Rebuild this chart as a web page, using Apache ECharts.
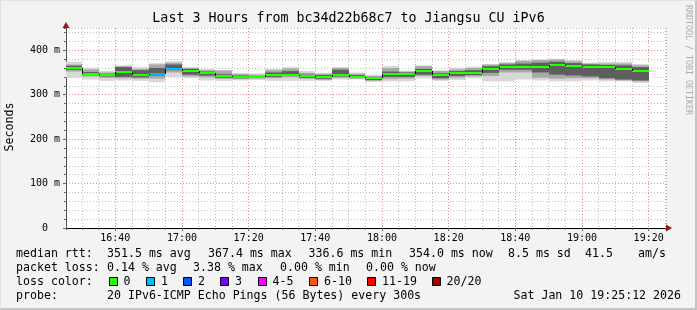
<!DOCTYPE html>
<html><head><meta charset="utf-8">
<script src="https://cdn.jsdelivr.net/npm/echarts@6/dist/echarts.min.js"></script>
<style>
html,body{margin:0;padding:0;background:#f3f3f3;}
#wrap{position:relative;width:697px;height:310px;}
#c{width:697px;height:310px;}
#frame{position:absolute;left:0;top:0;width:697px;height:310px;box-sizing:border-box;border-top:1px solid #e2e2e2;border-left:1px solid #e2e2e2;border-right:2px solid #c4c4c4;border-bottom:2px solid #c4c4c4;pointer-events:none;}
</style>
</head><body><div id="wrap"><div id="c"></div><div id="frame"></div></div>
<script>
// ---- data ----
const windowStart = '16:25:12';
const windowEnd = '19:25:12';
const stepMinutes = 5;
const stepEnds = ['16:30','16:35','16:40','16:45','16:50','16:55','17:00','17:05','17:10','17:15',
  '17:20','17:25','17:30','17:35','17:40','17:45','17:50','17:55','18:00','18:05',
  '18:10','18:15','18:20','18:25','18:30','18:35','18:40','18:45','18:50','18:55',
  '19:00','19:05','19:10','19:15','19:20'];
const median = [361,346.5,344.3,351.7,344.3,346.5,357.8,353.3,348.4,341.5,
  339.5,339.5,343.5,345,341,340,344.3,340,336.6,347.5,
  347.5,353.5,343.7,349,349.8,358,362.5,363,363.3,367.4,
  365.5,363.3,363.3,358.8,354.0];
const lossCount = [0,0,0,0,0,1,1,0,0,0, 0,0,0,0,0,0,0,0,0,0, 0,0,0,0,0,0,0,0,0,0, 0,0,0,0,0];
const smokeOuterLo = [338,334,331,332,331,328,340,337,332,331, 332,333,331,331,331,331,334,334,329,330, 330,337,331,333,337,330,330,334,332,330, 330,332,330,330,326];
const smokeOuterHi = [374,361,354,366,362,371,375,362,358,356, 349,348,358,362,353,349,362,350,345,365, 354,366,355,361,363,368,372,378,379,381, 378,372,374,374,369];
const smokeMidLo   = [352,341,338,337,336,336,350,341,339,336, 335,336,337,339,336,333,338,336,331,335, 336,342,334,338,341,342,350,350,338,336, 337,337,334,332,330];
const smokeMidHi   = [368,357,350,364,358,368,372,360,355,354, 346,345,355,359,349,347,360,347,342,360, 352,364,353,357,360,368,372,376,378,379, 375,370,370,370,366];
const smokeInnerLo = [356,344,341,340,339,343,355,345,343,338, 337,338,340,342,338,336,341,338,333,340, 340,345,337,342,344,349,356,356,350,345, 343,341,337,334,332];
const smokeInnerHi = [365,351,347,362,355,360,368,358,352,346, 343,342,350,353,345,344,356,344,340,352, 350,358,348,353,355,364,368,370,372,374, 371,368,367,366,362];
const yTickValues = [0,100,200,300,400];
const lossLabels = ['0','1','2','3','4-5','6-10','11-19','20/20'];
const lossUpper  = [0,1,2,3,5,10,19,20];
const lossColors = ['#26ff00','#00b8ff','#0059ff','#7e00ff','#ff00ff','#ff5500','#ff0000','#a10000'];
const rttStatValues = [351.5,367.4,336.6,354.0];
const rttStatNames = ['avg','max','min','now'];
const rttSd = 8.5;
const rttAms = 41.5;
const lossStatValues = [0.14,3.38,0.00,0.00];
const titleText = 'Last 3 Hours from bc34d22b68c7 to Jiangsu CU iPv6';
const probeText = '20 IPv6-ICMP Echo Pings (56 Bytes) every 300s';
const dateText = 'Sat Jan 10 19:25:12 2026';

// ---- helpers ----
function toMin(s){const p=s.split(':').map(Number);return p[0]*60+p[1]+(p[2]||0)/60;}
const xMin = toMin(windowStart), xMax = toMin(windowEnd);
function fmtTime(v){const h=Math.floor(v/60+1e-9);const m=Math.round(v-h*60);return String(h).padStart(2,'0')+':'+String(m).padStart(2,'0');}
function bucket(c){for(let i=0;i<lossUpper.length;i++){if(c<=lossUpper[i])return i;}return lossUpper.length-1;}

function bandData(lo,hi){return stepEnds.map((e,i)=>{const t=toMin(e);return [Math.max(t-stepMinutes,xMin),t,lo[i],hi[i]];});}
const medianData = stepEnds.map((e,i)=>{const t=toMin(e);return [Math.max(t-stepMinutes,xMin),t,median[i],i>0?median[i-1]:median[i],bucket(lossCount[i])];});

function bandSeries(lo,hi,color){
  return {type:'custom',xAxisIndex:0,yAxisIndex:0,data:bandData(lo,hi),silent:true,z:2,
    renderItem:function(params,api){
      const a=api.coord([api.value(0),api.value(3)]);
      const b=api.coord([api.value(1),api.value(2)]);
      const x0=Math.round(a[0]),x1=Math.round(b[0]);
      return {type:'rect',shape:{x:x0,y:a[1],width:x1-x0,height:b[1]-a[1]},style:{fill:color}};
    }};
}

const mono='"DejaVu Sans Mono"';
const fLegend='11.6px '+mono;
function txt(x,y,t,extra){return Object.assign({type:'text',x:x,y:y,silent:true,style:{text:t,font:fLegend,fill:'#000',align:'left',verticalAlign:'middle'}},extra||{});}

const graphics=[];
graphics.push(txt(10,127,'Seconds',{rotation:Math.PI/2,style:{text:'Seconds',font:fLegend,fill:'#000',align:'center',verticalAlign:'middle'}}));
graphics.push(txt(688,60,'RRDTOOL / TOBI OETIKER',{rotation:-Math.PI/2,style:{text:'RRDTOOL / TOBI OETIKER',font:'8.3px '+mono,fill:'#ababab',align:'center',verticalAlign:'middle'}}));
// row 1
graphics.push(txt(16,254,'median rtt:'));
const rttX=[107,208,308.5,409];
rttStatValues.forEach((v,i)=>graphics.push(txt(rttX[i],254,v.toFixed(1)+' ms '+rttStatNames[i])));
graphics.push(txt(508,254,rttSd.toFixed(1)+' ms sd'));
graphics.push(txt(585,254,rttAms.toFixed(1)));
graphics.push(txt(638,254,'am/s'));
// row 2
graphics.push(txt(16,268,'packet loss:'));
const lossX=[107,193,280,366];
lossStatValues.forEach((v,i)=>graphics.push(txt(lossX[i],268,v.toFixed(2)+' % '+rttStatNames[i])));
// row 3
graphics.push(txt(16,282,'loss color:'));
const boxX=[108.5,146,183,220,257.5,309,367,431.5];
lossLabels.forEach((l,i)=>{
  graphics.push({type:'rect',silent:true,shape:{x:Math.round(boxX[i])+0.5,y:277.5,width:8,height:8},style:{fill:lossColors[i],stroke:'#000',lineWidth:1}});
  graphics.push(txt(boxX[i]+15,282,l));
});
// row 4
graphics.push(txt(16,296,'probe:'));
graphics.push(txt(107,296,probeText));
graphics.push(txt(681,296,dateText,{style:{text:dateText,font:fLegend,fill:'#000',align:'right',verticalAlign:'middle'}}));

const gridMinor={color:'#bdbdbd',width:1,type:[1,2]};
const gridMajor={color:'#f08a8a',width:1,type:[1,2]};
const axisFont={fontFamily:mono,fontSize:10,color:'#000'};

const option={
  animation:false,
  backgroundColor:'#f3f3f3',
  title:{text:titleText,left:'center',top:12,padding:0,textStyle:{fontFamily:mono,fontSize:13.3,fontWeight:'normal',color:'#000'}},
  grid:{left:66,right:31,top:28,bottom:82,show:true,backgroundColor:'#ffffff',borderWidth:0,containLabel:false,outerBoundsMode:'none'},
  xAxis:[
    {type:'value',min:xMin,max:xMax,splitNumber:36,minInterval:5,maxInterval:5,position:'bottom',
     axisLine:{show:true,symbol:['none','triangle'],symbolSize:[7,6],symbolOffset:[0,3],lineStyle:{color:'#8b1c1c',width:0}},
     axisTick:{show:true,length:2,lineStyle:{color:'#666'}},axisLabel:{show:false},
     splitLine:{show:true,showMinLine:false,showMaxLine:true,lineStyle:gridMinor}},
    {type:'value',min:xMin,max:xMax,splitNumber:9,minInterval:20,maxInterval:20,position:'bottom',
     axisLine:{show:true,lineStyle:{color:'#000',width:1}},
     axisTick:{show:true,length:3,lineStyle:{color:'#666'}},
     axisLabel:{show:true,margin:5,showMinLabel:false,showMaxLabel:false,formatter:fmtTime,...axisFont},
     splitLine:{show:true,showMinLine:false,showMaxLine:false,lineStyle:gridMajor}}
  ],
  yAxis:[
    {type:'value',min:0,max:450,interval:20,position:'left',
     axisLine:{show:true,symbol:['none','triangle'],symbolSize:[7,6],symbolOffset:[0,3],lineStyle:{color:'#8b1c1c',width:0}},
     axisTick:{show:true,length:2,lineStyle:{color:'#666'}},axisLabel:{show:false},
     splitLine:{show:true,showMinLine:false,showMaxLine:true,lineStyle:gridMinor}},
    {type:'value',min:0,max:450,interval:100,position:'left',
     axisLine:{show:true,lineStyle:{color:'#555',width:1}},
     axisTick:{show:true,length:3,lineStyle:{color:'#666'}},
     axisLabel:{show:true,margin:6,showMaxLabel:false,formatter:function(v){return yTickValues.indexOf(v)<0?'':(v===0?'0  ':v+' m');},...axisFont},
     splitLine:{show:true,showMinLine:false,showMaxLine:false,lineStyle:gridMajor}}
  ],
  graphic:graphics,
  series:[
    bandSeries(smokeOuterLo,smokeOuterHi,'#d8d8d8'),
    bandSeries(smokeMidLo,smokeMidHi,'#a8a8a8'),
    bandSeries(smokeInnerLo,smokeInnerHi,'#5e5e5e'),
    {type:'custom',xAxisIndex:0,yAxisIndex:0,data:medianData,silent:true,z:3,
     renderItem:function(params,api){
       const a=api.coord([api.value(0),api.value(2)]);
       const b=api.coord([api.value(1),api.value(2)]);
       const p=api.coord([api.value(0),api.value(3)]);
       const x0=Math.round(a[0]),x1=Math.round(b[0]);
       const y=Math.round(a[1]);
       const yp=Math.round(p[1]);
       return {type:'group',children:[
         {type:'rect',shape:{x:x0,y:y-1,width:x1-x0,height:2},style:{fill:lossColors[api.value(4)]}},
         {type:'line',shape:{x1:x0+0.5,y1:yp,x2:x0+0.5,y2:y},style:{stroke:'#000',lineWidth:1}}
       ]};
     }}
  ]
};
const chart=echarts.init(document.getElementById('c'),null,{renderer:'canvas'});
chart.setOption(option);
</script></body></html>
